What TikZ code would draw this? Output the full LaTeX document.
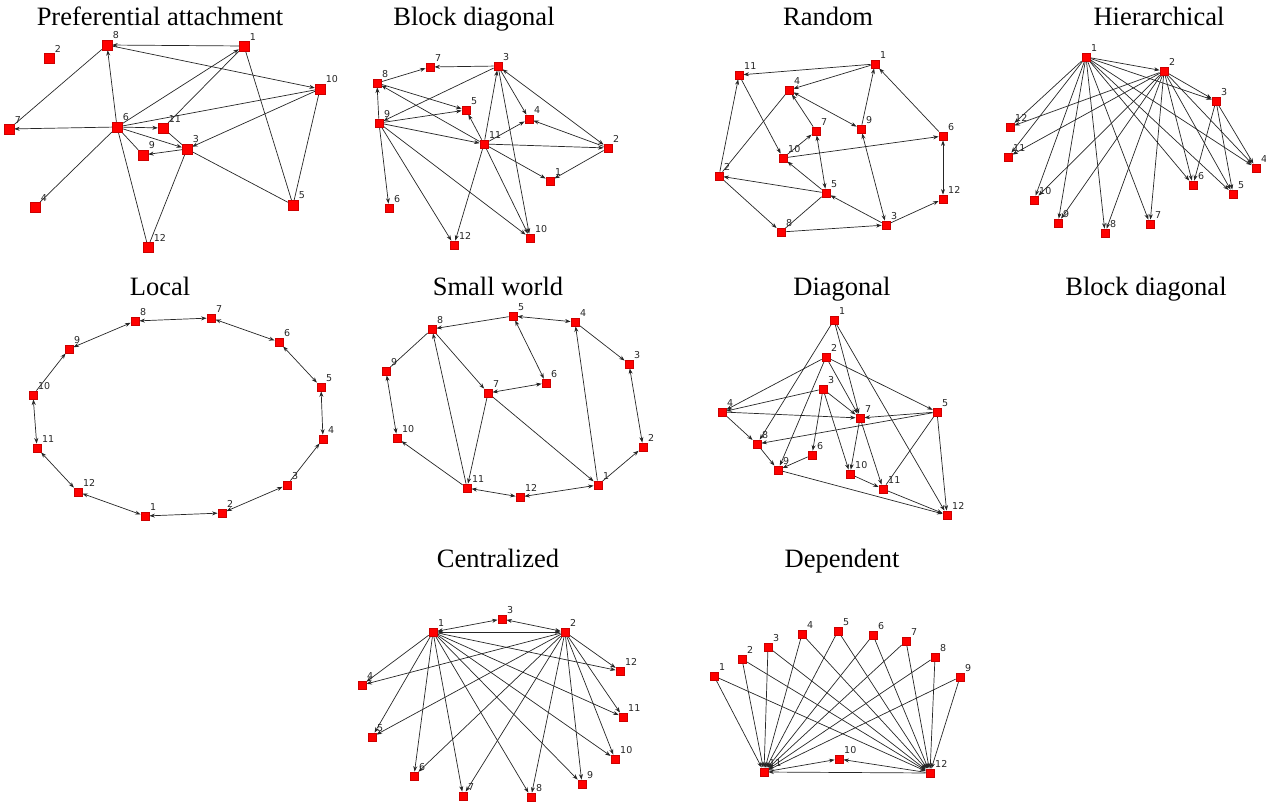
\documentclass[tikz,border=0pt]{standalone}
\usepackage{fontspec}
\setmainfont{Liberation Serif}
\newfontfamily\lblfont{DejaVu Sans}
\usetikzlibrary{arrows.meta}
\pgfdeclarelayer{bg}
\pgfsetlayers{bg,main}
\tikzset{
 nd/.style={rectangle, fill=red, draw=red!80!black, line width=0.3pt, minimum size=8.5pt, inner sep=0pt},
 big/.style={minimum size=10pt},
 lbl/.style={font=\lblfont\fontsize{9.5}{9.5}\selectfont, text=black!85, inner sep=0.6pt, label distance=0pt},
 ed/.style={draw=black!85, line width=0.7pt},
 ttl/.style={font=\fontsize{26.5}{28}\selectfont, anchor=base, inner sep=0pt},
 >={Stealth[length=5.5pt,width=4pt]}
}
\newcommand\gnode[5][]{\node[nd,#1,label={[lbl]above right:#5}] (#2) at (#3,#4) {};}
\begin{document}
\begin{tikzpicture}[x=1pt,y=-1pt]
\useasboundingbox (0,0) rectangle (1266,803);
% titles
\node[ttl] (t1) at (160,25) {Preferential attachment};
\node[ttl] (t2) at (474,25) {Block diagonal};
\node[ttl] (t3) at (828,25) {Random};
\node[ttl] (t4) at (1159,25) {Hierarchical};
\node[ttl] (t5) at (160,295) {Local};
\node[ttl] (t6) at (498,295) {Small world};
\node[ttl] (t7) at (842,295) {Diagonal};
\node[ttl] (t8) at (1146,295) {Block diagonal};
\node[ttl] (t9) at (498,567) {Centralized};
\node[ttl] (t10) at (842,567) {Dependent};
% panel 1
\gnode[big]{a8}{107}{45}{8}
\gnode[big]{a2}{49}{58}{2}
\gnode[big]{a1}{244}{46}{1}
\gnode[big]{a10}{320}{89}{10}
\gnode[big]{a7}{9}{129}{7}
\gnode[big]{a6}{117}{127}{6}
\gnode[big]{a11}{163}{128}{11}
\gnode[big]{a9}{143}{155}{9}
\gnode[big]{a3}{187}{149}{3}
\gnode[big]{a4}{35}{207}{4}
\gnode[big]{a5}{293}{205}{5}
\gnode[big]{a12}{148}{247}{12}
% panel 2
\gnode{b7}{430}{67}{7}
\gnode{b3}{498}{66}{3}
\gnode{b8}{377}{83}{8}
\gnode{b5}{466}{110}{5}
\gnode{b9}{379}{123}{9}
\gnode{b4}{529}{119}{4}
\gnode{b11}{484}{144}{11}
\gnode{b2}{608}{148}{2}
\gnode{b1}{550}{181}{1}
\gnode{b6}{389}{208}{6}
\gnode{b12}{454}{245}{12}
\gnode{b10}{530}{238}{10}
% panel 3
\gnode{c1}{875}{64}{1}
\gnode{c11}{739}{75}{11}
\gnode{c4}{789}{90}{4}
\gnode{c7}{816}{131}{7}
\gnode{c9}{861}{129}{9}
\gnode{c6}{943}{136}{6}
\gnode{c10}{783}{158}{10}
\gnode{c2}{719}{176}{2}
\gnode{c5}{826}{193}{5}
\gnode{c12}{943}{199}{12}
\gnode{c3}{886}{225}{3}
\gnode{c8}{781}{232}{8}
% panel 4
\gnode{d1}{1086}{57}{1}
\gnode{d2}{1164}{71}{2}
\gnode{d3}{1216}{101}{3}
\gnode{d12}{1010}{127}{12}
\gnode{d11}{1008}{157}{11}
\gnode{d4}{1256}{168}{4}
\gnode{d6}{1193}{185}{6}
\gnode{d5}{1233}{194}{5}
\gnode{d10}{1034}{200}{10}
\gnode{d9}{1058}{223}{9}
\gnode{d8}{1105}{233}{8}
\gnode{d7}{1150}{224}{7}
% panel 5
\gnode{e8}{135}{321}{8}
\gnode{e7}{211}{318}{7}
\gnode{e6}{279}{342}{6}
\gnode{e9}{69}{349}{9}
\gnode{e5}{321}{387}{5}
\gnode{e10}{33}{395}{10}
\gnode{e4}{323}{439}{4}
\gnode{e11}{37}{448}{11}
\gnode{e3}{287}{485}{3}
\gnode{e12}{78}{492}{12}
\gnode{e2}{222}{513}{2}
\gnode{e1}{145}{516}{1}
% panel 6
\gnode{f5}{513}{316}{5}
\gnode{f4}{575}{322}{4}
\gnode{f8}{432}{329}{8}
\gnode{f9}{386}{371}{9}
\gnode{f3}{629}{364}{3}
\gnode{f6}{546}{383}{6}
\gnode{f7}{488}{393}{7}
\gnode{f10}{397}{438}{10}
\gnode{f2}{643}{447}{2}
\gnode{f11}{467}{488}{11}
\gnode{f1}{598}{485}{1}
\gnode{f12}{520}{497}{12}
% panel 7
\gnode{g1}{834}{320}{1}
\gnode{g2}{826}{357}{2}
\gnode{g3}{823}{389}{3}
\gnode{g4}{722}{412}{4}
\gnode{g7}{860}{418}{7}
\gnode{g5}{937}{412}{5}
\gnode{g8}{757}{444}{8}
\gnode{g6}{812}{455}{6}
\gnode{g9}{778}{470}{9}
\gnode{g10}{850}{474}{10}
\gnode{g11}{883}{489}{11}
\gnode{g12}{947}{515}{12}
% panel 9
\gnode{h3}{502}{619}{3}
\gnode{h1}{433}{632}{1}
\gnode{h2}{565}{632}{2}
\gnode{h12}{620}{671}{12}
\gnode{h4}{362}{685}{4}
\gnode{h11}{623}{717}{11}
\gnode{h5}{372}{737}{5}
\gnode{h10}{615}{759}{10}
\gnode{h6}{414}{776}{6}
\gnode{h9}{582}{784}{9}
\gnode{h7}{463}{796}{7}
\gnode{h8}{531}{797}{8}
% panel 10
\gnode{k1}{714}{676}{1}
\gnode{k2}{742}{659}{2}
\gnode{k3}{768}{647}{3}
\gnode{k4}{802}{634}{4}
\gnode{k5}{838}{631}{5}
\gnode{k6}{873}{635}{6}
\gnode{k7}{906}{641}{7}
\gnode{k8}{935}{657}{8}
\gnode{k9}{960}{677}{9}
\gnode{k10}{839}{759}{10}
\gnode{k11}{764}{772}{11}
\gnode{k12}{930}{773}{12}
\begin{pgfonlayer}{bg}
% panel 1 edges
\foreach \s/\t in {a1/a8,a8/a10,a6/a7,a6/a11,a3/a9,a6/a8,a6/a1,a10/a3,a6/a3}
  \draw[ed,->] (\s) -- (\t);
\foreach \s/\t in {a8/a7,a1/a11,a1/a5,a6/a10,a6/a9,a6/a4,a6/a12,a11/a3,a3/a12,a3/a5,a10/a5}
  \draw[ed] (\s) -- (\t);
% panel 2 edges
\foreach \s/\t in {b3/b7,b8/b7,b8/b5,b11/b8,b9/b8,b9/b5,b3/b9,b9/b11,b9/b6,b9/b12,b9/b10,b11/b5,b11/b4,b11/b2,b11/b1,b11/b10,b11/b12,b11/b3,b3/b4,b3/b10,b2/b4,b2/b1}
  \draw[ed,->] (\s) -- (\t);
\draw[ed,<->] (b3) -- (b2);
% panel 3 edges
\foreach \s/\t in {c1/c11,c1/c4,c9/c1,c6/c1,c2/c11,c11/c10,c7/c4,c10/c7,c10/c6,c5/c10,c5/c2,c2/c8,c8/c3,c3/c5,c3/c12}
  \draw[ed,->] (\s) -- (\t);
\foreach \s/\t in {c4/c9,c5/c7,c3/c9,c12/c6}
  \draw[ed,<->] (\s) -- (\t);
\foreach \s/\t in {c2/c4,c8/c5}
  \draw[ed] (\s) -- (\t);
% panel 4 edges
\draw[ed,->] (d1) -- (d2);
\draw[ed,->] (d1) -- (d3);
\draw[ed,->] (d2) -- (d3);
\foreach \k in {4,...,12} {
  \draw[ed,->] (d1) -- (d\k);
  \draw[ed,->] (d2) -- (d\k);
}
\foreach \k in {4,5,6}
  \draw[ed,->] (d3) -- (d\k);
% panel 5 edges
\foreach \s/\t in {e1/e2,e2/e3,e4/e5,e5/e6,e6/e7,e7/e8,e8/e9,e10/e11,e11/e12,e12/e1}
  \draw[ed,<->] (\s) -- (\t);
\draw[ed,->] (e3) -- (e4);
\draw[ed,->] (e10) -- (e9);
% panel 6 edges
\foreach \s/\t in {f5/f8,f8/f7,f11/f8,f11/f10,f7/f11,f7/f1,f1/f4,f4/f3,f1/f2}
  \draw[ed,->] (\s) -- (\t);
\foreach \s/\t in {f5/f4,f5/f6,f9/f10,f7/f6,f3/f2,f11/f12,f12/f1}
  \draw[ed,<->] (\s) -- (\t);
\draw[ed] (f8) -- (f9);
% panel 7 edges
\foreach \s/\t in {g1/g7,g1/g12,g1/g8,g2/g4,g2/g7,g2/g5,g2/g9,g3/g4,g3/g7,g3/g6,g3/g10,g4/g7,g4/g8,g5/g7,g5/g8,g5/g12,g7/g10,g7/g11,g8/g9,g6/g9,g9/g12,g10/g11,g11/g12}
  \draw[ed,->] (\s) -- (\t);
\draw[ed] (g5) -- (g11);
% panel 9 edges
\draw[ed,<->] (h1) -- (h2);
\draw[ed,<->] (h1) -- (h3);
\draw[ed,<->] (h3) -- (h2);
\foreach \k in {4,...,12} {
  \draw[ed,->] (h1) -- (h\k);
  \draw[ed,->] (h2) -- (h\k);
}
% panel 10 edges
\foreach \k in {1,...,9} {
  \draw[ed,->] (k\k) -- (k11);
  \draw[ed,->] (k\k) -- (k12);
}
\draw[ed,->] (k11) -- (k10);
\draw[ed,->] (k12) -- (k10);
\draw[ed,->] (k12) -- (k11);
\end{pgfonlayer}
\end{tikzpicture}
\end{document}
